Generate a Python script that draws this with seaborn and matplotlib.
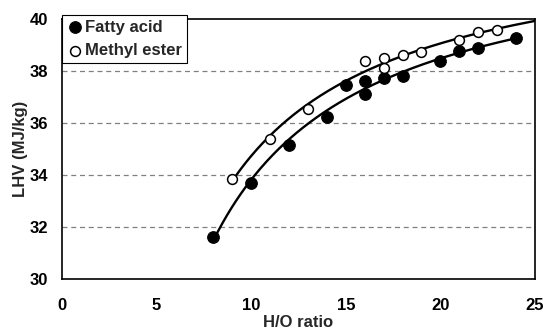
import numpy as np
import pandas as pd
import matplotlib
matplotlib.use("Agg")
import matplotlib.pyplot as plt
import seaborn as sns

# Data
fa_x = [8, 10, 12, 14, 15, 16, 16, 17, 18, 20, 21, 22, 24]
fa_y = [31.62, 33.68, 35.15, 36.24, 37.45, 37.62, 37.12, 37.72, 37.80, 38.38, 38.78, 38.87, 39.27]
me_x = [9, 11, 13, 16, 17, 17, 18, 19, 21, 22, 23]
me_y = [33.85, 35.38, 36.55, 38.40, 38.51, 38.10, 38.60, 38.72, 39.19, 39.49, 39.56]
fa_label = "Fatty acid"
me_label = "Methyl ester"
xticks = [0, 5, 10, 15, 20, 25]
yticks = [30, 32, 34, 36, 38, 40]

sns.set_theme(style="white")
plt.rcParams['font.family'] = ['Liberation Sans', 'DejaVu Sans']
plt.rcParams['font.weight'] = 'bold'

fig = plt.figure(figsize=(5.43, 3.29), dpi=100)
ax = fig.add_axes([62/543, 1-279/329, (535-62)/543, (279-19)/329])

df_fa = pd.DataFrame({"x": fa_x, "y": fa_y})
df_me = pd.DataFrame({"x": me_x, "y": me_y})

# Trendlines of the form y = a + b/x fitted to the data
def fit_inv(x, y):
    b, a = np.polyfit(1.0 / np.asarray(x, float), np.asarray(y, float), 1)
    return a, b

a_fa, b_fa = fit_inv(fa_x, fa_y)
a_me, b_me = fit_inv(me_x, me_y)
xf = np.linspace(min(fa_x), max(fa_x), 200)
xm = np.linspace(min(me_x), 25, 200)
sns.lineplot(x=xf, y=a_fa + b_fa / xf, ax=ax, color="black", lw=1.7, zorder=2)
sns.lineplot(x=xm, y=a_me + b_me / xm, ax=ax, color="black", lw=1.7, zorder=2)

sns.scatterplot(data=df_fa, x="x", y="y", ax=ax, color="black", edgecolor="black",
                s=70, linewidth=0.8, zorder=3, label=fa_label)
sns.scatterplot(data=df_me, x="x", y="y", ax=ax, color="white", edgecolor="black",
                s=50, linewidth=1.1, zorder=3, label=me_label)

ax.set_xlim(0, 25)
ax.set_ylim(30, 40)
ax.set_xticks(xticks)
ax.set_yticks(yticks)
for s in ax.spines.values():
    s.set_color("black")
    s.set_linewidth(1.2)
for y in [32, 34, 36, 38]:
    ax.axhline(y, color="#808080", lw=0.9, ls=(0, (4, 3)), zorder=1)

ax.tick_params(axis="both", which="both", direction="out", length=5, width=0.8,
               color="#808080", labelsize=12, labelcolor="black")
ax.tick_params(axis="x", pad=9)
ax.tick_params(axis="y", pad=5)
for lab in ax.get_xticklabels() + ax.get_yticklabels():
    lab.set_fontweight("bold")

ax.set_xlabel("H/O ratio", fontsize=12, fontweight="bold", labelpad=1)
ax.set_ylabel("LHV (MJ/kg)", fontsize=12, fontweight="bold", labelpad=1)

leg = ax.legend(loc="upper left", bbox_to_anchor=(0.0, 1.017), frameon=True, fancybox=False,
                edgecolor="black", framealpha=1, borderpad=0.3, handletextpad=0.1,
                labelspacing=0.5, handlelength=1.0, borderaxespad=0,
                prop={"weight": "bold", "size": 12})
leg.get_frame().set_linewidth(0.8)

fig.savefig("out.png", dpi=100)
